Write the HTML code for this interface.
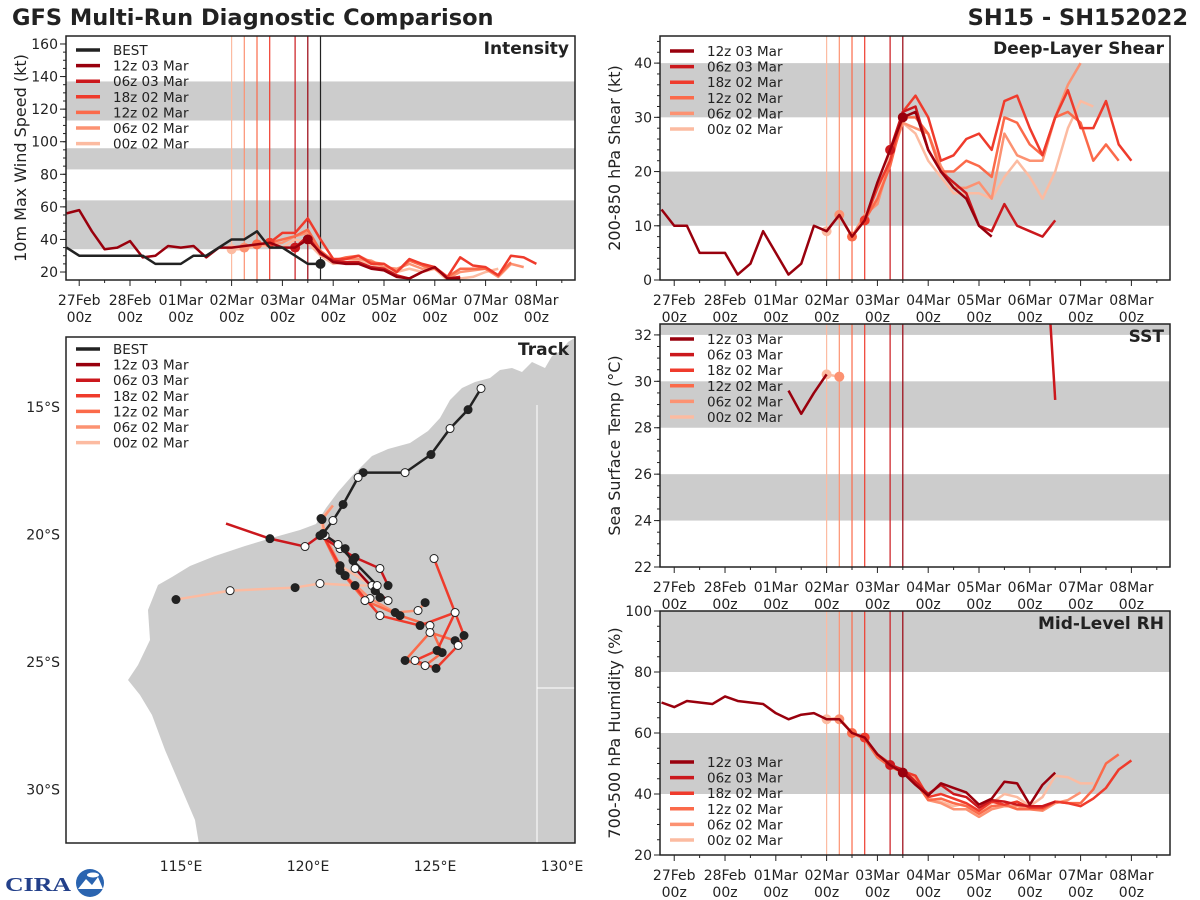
<!DOCTYPE html>
<html><head><meta charset="utf-8">
<style>
html,body{margin:0;padding:0;background:#fff;}
svg{display:block;font-family:"DejaVu Sans","Liberation Sans",sans-serif;}
</style></head>
<body>
<svg id="fig" width="1200" height="900" viewBox="0 0 1200 900" xmlns="http://www.w3.org/2000/svg">
<rect width="1200" height="900" fill="#fff"/>
<text x="12" y="25" font-size="22.5" font-weight="bold" fill="#222">GFS Multi-Run Diagnostic Comparison</text>
<text x="1188" y="25" font-size="22.5" font-weight="bold" fill="#222" text-anchor="end">SH15 - SH152022</text>
<g id="logo">
<text x="5" y="891" font-size="20" font-weight="bold" fill="#23408a" font-family="Liberation Serif,serif" textLength="66" lengthAdjust="spacingAndGlyphs">CIRA</text>
<circle cx="90" cy="883" r="14" fill="#2a64b0"/>
<path d="M78 889 L86 879 L92 885 L98 877 L103 889 Z" fill="#fff"/>
<ellipse cx="93" cy="875" rx="6" ry="2.5" fill="#fff"/>
</g>
</svg>
<script>
// ---------- data ----------
const runNames = ["12z 03 Mar","06z 03 Mar","18z 02 Mar","12z 02 Mar","06z 02 Mar","00z 02 Mar"];
const runColors = ["#99000d","#cb181d","#ef3b2c","#fb6a4a","#fc9272","#fcbba1"];
const runInit = [4.5,4.25,3.75,3.5,3.25,3.0];
const dateTicks = ["27Feb","28Feb","01Mar","02Mar","03Mar","04Mar","05Mar","06Mar","07Mar","08Mar"];

// intensity (kt), 6-hourly starting at given start time (days since 27Feb 00z)
const bestStart = -0.25;
const bestVmax = [35,30,30,30,30,30,30,25,25,25,30,30,35,40,40,45,35,35,30,25,25];
const vmaxStart = [-0.25,4.25,3.75,3.5,3.25,3.0];
const vmax12z03 = [56,58,45,34,35,39,29,30,36,35,36,29,35,35,36,37,38,35,35,40,32,26,25,25,22,21,17,16,20,23,16,16];
const vmax06z03 = [35,42,31,27,26,26,23,22,18,16,20,23,16,17];
const vmax18z02 = [38,44,44,53,40,28,28,30,25,25,20,28,25,23,17,29,24,23,18,30,29,25];
const vmax12z02 = [37,38,40,42,46,33,27,29,30,26,25,20,27,24,22,17,22,22,22,18,26];
const vmax06z02 = [35,37,37,38,42,44,32,26,28,28,27,23,22,25,22,23,16,20,21,22,17,25,23];
const vmax00z02 = [34,34,36,36,35,40,38,30,25,26,27,25,22,20,22,20,22,15,16,17,20,22];

// shear (kt)
const shrStart = [-0.25,4.25,3.75,3.5,3.25,3.0];
const shr12z03 = [13,10,10,5,5,5,1,3,9,5,1,3,10,9,12,8,11,18,24,30,31,24,20,17,15,10,8];
const shr06z03 = [24,31,32,24,20,18,16,10,9,14,10,9,8,11];
const shr18z02 = [11,17,22,31,34,30,22,23,26,27,24,33,34,28,23,30,35,28,28,33,25,22];
const shr12z02 = [8,11,15,21,30,30,27,20,20,22,21,19,30,29,25,23,30,31,29,22,25,22];
const shr06z02 = [12,8,12,14,22,29,28,27,21,17,17,18,15,27,23,22,22,30,36,40];
const shr00z02 = [9,12,8,12,15,23,29,27,22,19,16,16,16,15,19,22,19,15,20,28,33,32];

// SST (C)
const sstStart = [2.25,7.25,null,null,3.25,3.0];
const sst12z03 = [29.6,28.6,29.5,30.3];
const sst06z03 = [38,29.2];
const sst06z02 = [30.2];
const sst00z02 = [30.3,30.2];

// mid-level RH (%)
const rhStart = [-0.25,4.25,3.75,3.5,3.25,3.0];
const rh12z03 = [70,68.5,70.5,70,69.5,72,70.5,70,69.5,66.5,64.5,66,66.5,64.5,64.5,60,58.5,53,49.5,47,43,39.5,43.5,42,40.5,36.5,38.5,44,43.5,36.5,43,47];
const rh06z03 = [49.5,48,44,40,43,40,39,35.5,38,37.5,36.5,36,36,37.5];
const rh18z02 = [58.5,53,50,47.5,46,39,40,38.5,37,34.5,37.5,36.5,37.5,35.5,35.5,37.5,37,36,38.5,42,48,51];
const rh12z02 = [60,58,52,49,47,44,38,38.5,37,36,33.5,36,36.5,35,35,35,37.5,37,37,41.5,50,53];
const rh06z02 = [64.5,60,58,52.5,49.5,47,45,38,37,35,35,32.5,35,36,36,35,34.5,37,38,40.5];
const rh00z02 = [64.5,65,60,58,53,49,47,44,38.5,37.5,36,37,34,37,40,39,36,39,46,45.5,43.5,43.5];

// tracks (lon E, lat)
const bestLon = [126.81,126.30,125.59,124.84,123.82,122.17,121.97,121.38,120.98,120.59,121.18,121.77,122.72,122.83];
const bestLat = [-14.27,-15.10,-15.84,-16.86,-17.57,-17.57,-17.76,-18.82,-19.45,-19.96,-20.39,-21.02,-22.0,-22.47];
const trk12z03Lon = [120.55,121.46,121.85,122.64,123.15];
const trk12z03Lat = [-19.96,-20.55,-21.33,-22.20,-22.59];
const trk06z03Lon = [116.77,118.50,119.88,120.47,121.26,121.85,122.83,123.15];
const trk06z03Lat = [-19.57,-20.16,-20.47,-20.04,-20.55,-20.90,-21.33,-22.0];
const trk18z02Lon = [120.55,121.46,122.83,124.41,125.79,125.08,124.21,125.04,125.91,126.14,124.96];
const trk18z02Lat = [-19.96,-21.61,-23.18,-23.57,-23.06,-24.55,-24.94,-25.25,-24.35,-23.96,-20.94];
const trk12z02Lon = [120.55,121.26,122.24,123.62,124.80,125.28,124.61,123.82,124.80,125.79];
const trk12z02Lat = [-19.96,-21.41,-22.59,-23.18,-23.57,-24.63,-25.14,-24.94,-23.84,-24.16];
const trk06z02Lon = [120.98,120.55,120.67,121.46,122.44,123.43,124.33,124.61];
const trk06z02Lat = [-18.86,-19.41,-20.04,-21.61,-22.51,-23.06,-22.98,-22.67];
const trk00z02Lon = [120.98,120.51,120.59,121.26,122.52,121.85,120.47,119.49,116.93,114.80];
const trk00z02Lat = [-18.86,-19.37,-20.0,-21.22,-22.0,-22.0,-21.92,-22.08,-22.20,-22.55];

// ---------- drawing ----------
const NS="http://www.w3.org/2000/svg";
const svg=document.getElementById('fig');
function el(tag,attrs,parent){const e=document.createElementNS(NS,tag);for(const k in attrs)e.setAttribute(k,attrs[k]);(parent||svg).appendChild(e);return e;}

function makePanel(cfg){
  const g=el('g',{});
  
  
  const xs=t=>cfg.x0+(t-cfg.tmin)/(cfg.tmax-cfg.tmin)*(cfg.x1-cfg.x0);
  const ys=v=>cfg.y1-(v-cfg.ymin)/(cfg.ymax-cfg.ymin)*(cfg.y1-cfg.y0);
  const cid='clip-'+cfg.name;
  const cp=el('clipPath',{id:cid},g);
  el('rect',{x:cfg.x0,y:cfg.y0,width:cfg.x1-cfg.x0,height:cfg.y1-cfg.y0},cp);
  cfg.bands.forEach(b=>{
    const r=el('rect',{x:cfg.x0,y:ys(Math.min(b[1],cfg.ymax)),width:cfg.x1-cfg.x0,height:ys(b[0])-ys(Math.min(b[1],cfg.ymax)),fill:'#cccccc'},g);
    
    
  });
  for(let v=cfg.ymin0;v<=cfg.ymax+1e-6;v+=cfg.minor){
    if(v<cfg.ymin-1e-6)continue;
    el('line',{x1:cfg.x0-3,x2:cfg.x0,y1:ys(v),y2:ys(v),stroke:'#222','stroke-width':1},g);
  }
  cfg.yticks.forEach(v=>{
    el('line',{x1:cfg.x0-6,x2:cfg.x0,y1:ys(v),y2:ys(v),stroke:'#222','stroke-width':1},g);
    const t=el('text',{x:cfg.x0-8,y:ys(v)+5,'font-size':14,'text-anchor':'end',fill:'#222'},g);
    t.textContent=v;
    
    
  });
  for(let d=0;d<=9.5;d+=0.5){
    el('line',{x1:xs(d),x2:xs(d),y1:cfg.y1,y2:cfg.y1+(d%1===0?6:3),stroke:'#222','stroke-width':1},g);
  }
  dateTicks.forEach((lab,i)=>{
    const t1=el('text',{x:xs(i),y:cfg.y1+25,'font-size':14,'text-anchor':'middle',fill:'#222'},g);
    t1.textContent=lab;
    
    
    const t2=el('text',{x:xs(i),y:cfg.y1+42,'font-size':14,'text-anchor':'middle',fill:'#222'},g);
    t2.textContent='00z';
    
    
  });
  const yt=el('text',{x:0,y:0,'font-size':16,'text-anchor':'middle',fill:'#222',transform:`translate(${cfg.x0-40},${(cfg.y0+cfg.y1)/2}) rotate(-90)`},g);
  yt.textContent=cfg.ylabel;
  
  
  const pl=el('g',{'clip-path':`url(#${cid})`},g);
  runInit.forEach((t,i)=>{
    const l=el('line',{x1:xs(t),x2:xs(t),y1:cfg.y0,y2:cfg.y1,stroke:runColors[i],'stroke-width':1.2},pl);
    
    
  });
  if(cfg.bestLine!==undefined){
    const l=el('line',{x1:xs(cfg.bestLine),x2:xs(cfg.bestLine),y1:cfg.y0,y2:cfg.y1,stroke:'#222','stroke-width':1.2},pl);
    
    
  }
  for(let i=cfg.series.length-1;i>=0;i--){
    const s=cfg.series[i]; if(!s||!s.vals)continue;
    const pts=s.vals.map((v,k)=>[xs(s.start+k*0.25),ys(v)]);
    const p=el('polyline',{points:pts.map(q=>q.join(',')).join(' '),fill:'none',stroke:s.color,'stroke-width':2.5,'stroke-linejoin':'round'},pl);
    
    
    if(s.marker!==undefined){
      const k=Math.round((s.marker-s.start)/0.25);
      if(k>=0&&k<s.vals.length){
        const c=el('circle',{cx:xs(s.marker),cy:ys(s.vals[k]),r:5,fill:s.color},pl);
        
        
      }
    }
  }
  el('rect',{x:cfg.x0,y:cfg.y0,width:cfg.x1-cfg.x0,height:cfg.y1-cfg.y0,fill:'none',stroke:'#222','stroke-width':1.5},g);
  const tt=el('text',{x:cfg.x1-6,y:cfg.y0+18,'font-size':17,'font-weight':'bold','text-anchor':'end',fill:'#222'},g);
  tt.textContent=cfg.title;
  
  
  const items=[];
  if(cfg.best)items.push(['BEST','#222']);
  runNames.forEach((n,i)=>items.push([n,runColors[i]]));
  items.forEach((it,i)=>{
    const yy=cfg.legY+i*15.6;
    const l=el('line',{x1:cfg.x0+10,x2:cfg.x0+34,y1:yy,y2:yy,stroke:it[1],'stroke-width':3.5},g);
    
    
    const t=el('text',{x:cfg.x0+47,y:yy+5,'font-size':13.5,fill:'#222'},g);
    t.textContent=it[0];
    
    
  });
  return g;
}
function ser(arrs,starts,best){
  const keys=['12z03','06z03','18z02','12z02','06z02','00z02'];
  const out=arrs.map((a,i)=>a?{vals:a,start:starts[i],color:runColors[i],key:keys[i],marker:runInit[i]}:null);
  if(best)out.push({vals:best.vals,start:best.start,color:'#222',key:'best',marker:best.marker});
  return out;
}
function withBestFirst(arr){const b=arr.pop();return [b].concat(arr);}

makePanel({name:'intensity-panel',x0:66,x1:575,y0:36,y1:280,tmin:-0.26,tmax:9.76,ymin:15.1,ymax:164.9,ymin0:15,minor:5,
  yticks:[20,40,60,80,100,120,140,160],bands:[[34,64],[83,96],[113,137]],ylabel:'10m Max Wind Speed (kt)',title:'Intensity',
  best:true,legY:50,bestLine:4.75,
  series:withBestFirst(ser([vmax12z03,vmax06z03,vmax18z02,vmax12z02,vmax06z02,vmax00z02],vmaxStart,{vals:bestVmax,start:bestStart,marker:4.75}))});
makePanel({name:'shear-panel',x0:660,x1:1170,y0:36,y1:280,tmin:-0.28,tmax:9.76,ymin:0,ymax:45,ymin0:0,minor:2,
  yticks:[0,10,20,30,40],bands:[[10,20],[30,40]],ylabel:'200-850 hPa Shear (kt)',title:'Deep-Layer Shear',legY:51,
  series:ser([shr12z03,shr06z03,shr18z02,shr12z02,shr06z02,shr00z02],shrStart)});
makePanel({name:'sst-panel',x0:660,x1:1170,y0:324,y1:567,tmin:-0.28,tmax:9.76,ymin:22,ymax:32.47,ymin0:22,minor:0.5,
  yticks:[22,24,26,28,30,32],bands:[[24,26],[28,30],[32,33]],ylabel:'Sea Surface Temp (°C)',title:'SST',legY:339,
  series:ser([sst12z03,sst06z03,null,null,sst06z02,sst00z02],sstStart)});
makePanel({name:'rh-panel',x0:660,x1:1170,y0:611,y1:855,tmin:-0.28,tmax:9.76,ymin:20,ymax:100,ymin0:20,minor:5,
  yticks:[20,40,60,80,100],bands:[[40,60],[80,100]],ylabel:'700-500 hPa Humidity (%)',title:'Mid-Level RH',legY:762,
  series:ser([rh12z03,rh06z03,rh18z02,rh12z02,rh06z02,rh00z02],rhStart)});

// ---------- track map ----------
(function(){
  const T={x0:66,x1:575,y0:337,y1:843,lonmin:110.47,lonmax:130.51,latmin:-32.1,latmax:-12.25};
  const xs=lon=>T.x0+(lon-T.lonmin)/(T.lonmax-T.lonmin)*(T.x1-T.x0);
  const ys=lat=>T.y0+(T.latmax-lat)/(T.latmax-T.latmin)*(T.y1-T.y0);
  const g=el('g',{});
  
  
  const cp=el('clipPath',{id:'clip-track'},g);
  el('rect',{x:T.x0,y:T.y0,width:T.x1-T.x0,height:T.y1-T.y0},cp);
  const m=el('g',{'clip-path':'url(#clip-track)'},g);
  const land=el('path',{d:'M200 850 L195 820 L180 785 L165 750 L152 715 L140 695 L128 680 L138 665 L150 640 L148 610 L158 585 L172 577 L190 566 L215 556 L245 546 L275 537 L300 530 L316 524 L326 508 L338 492 L352 476 L362 466 L372 456 L388 449 L410 443 L428 431 L440 418 L450 400 L462 388 L475 382 L490 378 L500 370 L512 368 L522 372 L532 362 L545 368 L552 356 L562 350 L568 342 L580 335 L580 850 Z',fill:'#cccccc'},m);
  
  
  el('line',{x1:537,x2:537,y1:405,y2:843,stroke:'#fff','stroke-width':1},m);
  el('line',{x1:537,x2:575,y1:688,y2:688,stroke:'#fff','stroke-width':1},m);
  const tracks=[[trk00z02Lon,trk00z02Lat,5],[trk06z02Lon,trk06z02Lat,4],[trk12z02Lon,trk12z02Lat,3],[trk18z02Lon,trk18z02Lat,2],[trk06z03Lon,trk06z03Lat,1],[trk12z03Lon,trk12z03Lat,0],[bestLon,bestLat,-1]];
  tracks.forEach(tr=>{
    const col=tr[2]<0?'#222':runColors[tr[2]];
    const pts=tr[0].map((lo,i)=>xs(lo)+','+ys(tr[1][i])).join(' ');
    const p=el('polyline',{points:pts,fill:'none',stroke:col,'stroke-width':2.5,'stroke-linejoin':'round'},m);
    
    
  });
  tracks.forEach(tr=>{
    tr[0].forEach((lo,i)=>{
      if(i===0&&tr[2]>=0)return;
      const c=el('circle',{cx:xs(lo),cy:ys(tr[1][i]),r:4,fill:i%2?'#222':'#fff',stroke:'#222','stroke-width':1},m);
      
      
    });
  });
  el('rect',{x:T.x0,y:T.y0,width:T.x1-T.x0,height:T.y1-T.y0,fill:'none',stroke:'#222','stroke-width':1.5},g);
  [115,120,125,130].forEach(lo=>{
    const t=el('text',{x:xs(lo),y:T.y1+28,'font-size':14,'text-anchor':'middle',fill:'#222'},g);
    t.textContent=lo+'°E';
    
    
  });
  [15,20,25,30].forEach(la=>{
    const t=el('text',{x:T.x0-6,y:ys(-la)+5,'font-size':14,'text-anchor':'end',fill:'#222'},g);
    t.textContent=la+'°S';
    
    
  });
  const tt=el('text',{x:T.x1-6,y:T.y0+18,'font-size':17,'font-weight':'bold','text-anchor':'end',fill:'#222'},g);
  tt.textContent='Track';
  
  
  const items=[['BEST','#222']].concat(runNames.map((n,i)=>[n,runColors[i]]));
  items.forEach((it,i)=>{
    const yy=349+i*15.6;
    const l=el('line',{x1:T.x0+10,x2:T.x0+34,y1:yy,y2:yy,stroke:it[1],'stroke-width':3.5},g);
    
    
    const t=el('text',{x:T.x0+47,y:yy+5,'font-size':13.5,fill:'#222'},g);
    t.textContent=it[0];
    
    
  });
})();
</script>
</body></html>
